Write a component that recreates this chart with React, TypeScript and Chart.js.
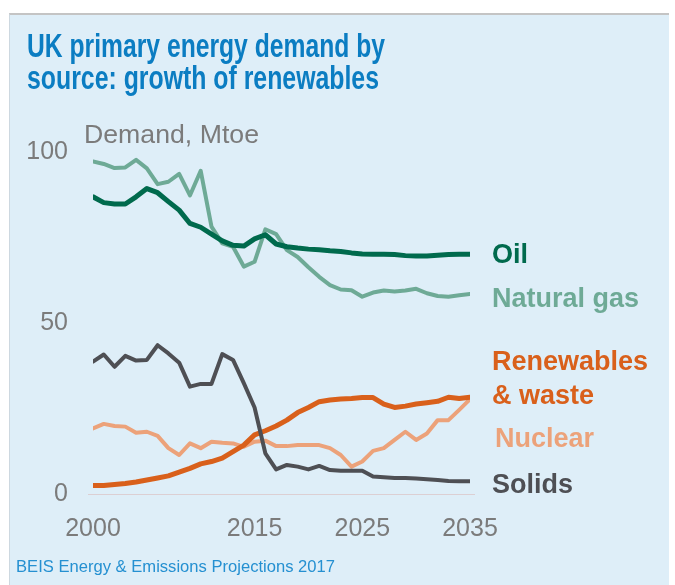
import React, { useEffect, useRef } from "react";
import { Chart, registerables } from "chart.js";

Chart.register(...registerables);

const years = [
  2000, 2001, 2002, 2003, 2004, 2005, 2006, 2007, 2008, 2009,
  2010, 2011, 2012, 2013, 2014, 2015, 2016, 2017, 2018, 2019,
  2020, 2021, 2022, 2023, 2024, 2025, 2026, 2027, 2028, 2029,
  2030, 2031, 2032, 2033, 2034, 2035,
];

const oil = [
  86.9, 85.2, 84.8, 84.8, 86.9, 89.3, 88.1, 85.5, 83.0, 79.1,
  78.0, 76.0, 74.0, 72.7, 72.5, 74.6, 75.8, 73.1, 72.3, 71.9,
  71.6, 71.4, 71.1, 70.9, 70.5, 70.2, 70.1, 70.1, 70.0, 69.7,
  69.6, 69.6, 69.8, 70.0, 70.1, 70.1,
];

const naturalGas = [
  97.2, 96.5, 95.3, 95.5, 97.7, 95.2, 90.6, 91.3, 93.6, 87.3,
  94.5, 78.2, 73.3, 72.3, 66.5, 67.9, 77.4, 76.0, 71.3, 69.3,
  66.3, 63.5, 61.1, 59.8, 59.6, 57.7, 58.9, 59.5, 59.2, 59.5,
  60.0, 58.7, 57.9, 57.7, 58.1, 58.5,
];

const renewables = [
  2.5, 2.5, 2.8, 3.1, 3.5, 4.1, 4.7, 5.3, 6.4, 7.5,
  8.8, 9.5, 10.5, 12.4, 14.3, 17.3, 18.5, 19.9, 21.6, 23.8,
  25.3, 27.0, 27.5, 27.8, 27.9, 28.2, 28.2, 26.3, 25.3, 25.7,
  26.3, 26.7, 27.1, 28.3, 27.9, 28.3,
];

const nuclear = [
  19.2, 20.5, 19.9, 19.7, 17.9, 18.2, 17.0, 13.4, 11.4, 14.8,
  13.4, 15.3, 15.0, 14.8, 13.8, 15.3, 15.6, 14.0, 14.0, 14.3,
  14.3, 14.3, 13.4, 11.4, 8.0, 9.5, 12.6, 13.4, 15.8, 18.2,
  15.8, 17.7, 21.6, 21.6, 24.6, 27.7,
];

const solids = [
  38.7, 40.8, 37.2, 40.4, 39.0, 39.2, 43.5, 41.1, 38.4, 31.4,
  32.2, 32.2, 40.9, 39.2, 32.4, 25.3, 11.9, 7.2, 8.5, 8.0,
  7.2, 8.2, 7.0, 6.8, 6.8, 6.8, 5.1, 4.9, 4.7, 4.7,
  4.5, 4.3, 4.1, 3.8, 3.7, 3.7,
];

const xTickValues = [2000, 2015, 2025, 2035];
const yTickValues = [0, 50, 100];

const titleLines = ["UK primary energy demand by", "source: growth of renewables"];
const unitLabel = "Demand, Mtoe";
const sourceNote = "BEIS Energy & Emissions Projections 2017";

const C_OIL = "#006a4d";
const C_GAS = "#6eaa96";
const C_REN = "#d9601b";
const C_NUC = "#eca27a";
const C_SOL = "#4e4f54";

const toPoints = (vals: number[]) => vals.map((v, i) => ({ x: years[i], y: v }));

const textPlugin = {
  id: "textPlugin",
  beforeDatasetsDraw(chart: any) {
    const { ctx } = chart;
    const x = chart.scales.x;
    const y = chart.scales.y;
    ctx.save();
    ctx.strokeStyle = "#dccfd3";
    ctx.lineWidth = 1;
    const py = Math.round(y.getPixelForValue(0)) + 0.5;
    ctx.beginPath();
    ctx.moveTo(x.left - 5, py);
    ctx.lineTo(x.right + 5, py);
    ctx.stroke();
    ctx.restore();
  },
  afterDraw(chart: any) {
    const ctx = chart.ctx as CanvasRenderingContext2D;
    const draw = (text: string, x: number, y: number, font: string, color: string, width?: number) => {
      ctx.save();
      ctx.font = font;
      ctx.fillStyle = color;
      ctx.textAlign = "left";
      ctx.textBaseline = "alphabetic";
      if (width) {
        const w = ctx.measureText(text).width;
        ctx.translate(x, y);
        ctx.scale(width / w, 1);
        ctx.fillText(text, 0, 0);
      } else {
        ctx.fillText(text, x, y);
      }
      ctx.restore();
    };
    const titleFont = "bold 34px 'Liberation Sans', Arial, sans-serif";
    draw(titleLines[0], 27, 57, titleFont, "#0b7dc2", 358);
    draw(titleLines[1], 27, 89, titleFont, "#0b7dc2", 352);
    draw(unitLabel, 84, 143, "26px 'Liberation Sans', Arial, sans-serif", "#7b7b7b", 175);
    draw(sourceNote, 16, 572, "17px 'Liberation Sans', Arial, sans-serif", "#2590d1", 319);

    const lf = "bold 27px 'Liberation Sans', Arial, sans-serif";
    draw("Oil", 492, 263, lf, C_OIL);
    draw("Natural gas", 492, 307, lf, C_GAS);
    draw("Renewables", 492, 370, lf, C_REN);
    draw("& waste", 492, 404, lf, C_REN);
    draw("Nuclear", 495, 447, lf, C_NUC);
    draw("Solids", 492, 493, lf, C_SOL);
  },
};

export default function App() {
  const canvasRef = useRef<HTMLCanvasElement | null>(null);

  useEffect(() => {
    const canvas = canvasRef.current;
    if (!canvas) return;
    const mk = (label: string, data: number[], color: string, width: number) => ({
      label,
      data: toPoints(data),
      borderColor: color,
      backgroundColor: color,
      borderWidth: width,
      pointRadius: 0,
      pointHoverRadius: 0,
      tension: 0,
      fill: false,
      borderJoinStyle: "round" as const,
      borderCapStyle: "round" as const,
    });
    const chart = new Chart(canvas, {
      type: "line",
      data: {
        datasets: [
          mk("Oil", oil, C_OIL, 5),
          mk("Solids", solids, C_SOL, 4),
          mk("Renewables & waste", renewables, C_REN, 5),
          mk("Natural gas", naturalGas, C_GAS, 4),
          mk("Nuclear", nuclear, C_NUC, 4),
        ],
      },
      options: {
        animation: false,
        responsive: false,
        devicePixelRatio: 1,
        layout: { padding: { top: 152, right: 205, bottom: 0, left: 0 } },
        plugins: {
          legend: { display: false },
          tooltip: { enabled: false },
          title: { display: false },
        },
        scales: {
          x: {
            type: "linear",
            min: 2000,
            max: 2035,
            grid: { display: false },
            border: { display: false },
            afterBuildTicks: (scale: any) => {
              scale.ticks = xTickValues.map((v) => ({ value: v }));
            },
            afterFit: (scale: any) => {
              scale.height = 91;
            },
            ticks: {
              autoSkip: false,
              maxRotation: 0,
              padding: 12,
              color: "#7b7b7b",
              font: { family: "'Liberation Sans', Arial, sans-serif", size: 25 },
              callback: (v: any) => String(v),
            },
          },
          y: {
            min: 0,
            max: 100,
            grid: { display: false },
            border: { display: false },
            afterBuildTicks: (scale: any) => {
              scale.ticks = yTickValues.map((v) => ({ value: v }));
            },
            afterFit: (scale: any) => {
              scale.width = 93;
            },
            ticks: {
              padding: 17,
              color: "#7b7b7b",
              font: { family: "'Liberation Sans', Arial, sans-serif", size: 25 },
              callback: (v: any) => String(v),
            },
          },
        },
      },
      plugins: [textPlugin],
    });
    return () => chart.destroy();
  }, []);

  return (
    <div style={{ position: "absolute", left: 0, top: 0, width: 675, height: 585, background: "#ffffff", overflow: "hidden" }}>
      <div
        style={{
          position: "absolute",
          left: 9,
          top: 13,
          width: 660,
          height: 572,
          boxSizing: "border-box",
          background: "#deeef8",
          borderTop: "2px solid #c4c4c4",
          borderLeft: "1px solid #cdd8e0",
        }}
      />
      <canvas
        ref={canvasRef}
        width={675}
        height={585}
        style={{ position: "absolute", left: 0, top: 0, width: 675, height: 585 }}
      />
    </div>
  );
}
